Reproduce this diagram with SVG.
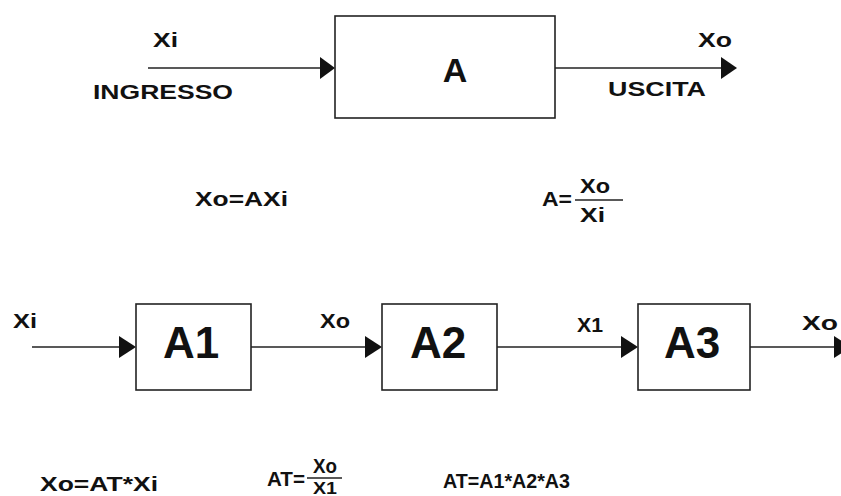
<svg xmlns="http://www.w3.org/2000/svg" width="841" height="496" viewBox="0 0 841 496">
<style>
.t{font-family:"Liberation Sans",Arial,sans-serif;font-weight:bold;fill:#111;}
.s{font-size:20px;}
.big{font-size:44px;text-anchor:middle;}
.box{fill:#fff;stroke:#222;stroke-width:1.6;}
.ln{stroke:#222;stroke-width:1.6;fill:none;}
.ah{fill:#111;}
</style>
<rect width="841" height="496" fill="#fff"/>
<g id="connectors">
<line class="ln" x1="148" y1="68" x2="322" y2="68"/>
<polygon class="ah" points="320,57 335,68 320,79"/>
<line class="ln" x1="555" y1="68" x2="722" y2="68"/>
<polygon class="ah" points="721,57 737,68 721,79"/>
<line class="ln" x1="32" y1="347" x2="120" y2="347"/>
<polygon class="ah" points="119,336 136,347 119,358"/>
<line class="ln" x1="251" y1="347" x2="366" y2="347"/>
<polygon class="ah" points="365,336 382,347 365,358"/>
<line class="ln" x1="497" y1="347" x2="622" y2="347"/>
<polygon class="ah" points="621,336 638,347 621,358"/>
<line class="ln" x1="750" y1="347" x2="838" y2="347"/>
<polygon class="ah" points="834,336 851,347 834,358"/>
</g>
<g id="nodeA">
<rect class="box" x="335" y="16" width="220" height="102"/>
<text class="t" x="455" y="82" font-size="34" text-anchor="middle">A</text>
</g>
<g id="nodeA1">
<rect class="box" x="136" y="304" width="115" height="86"/>
<text class="t big" x="191" y="358">A1</text>
</g>
<g id="nodeA2">
<rect class="box" x="382" y="304" width="115" height="86"/>
<text class="t big" x="438" y="358">A2</text>
</g>
<g id="nodeA3">
<rect class="box" x="638" y="304" width="112" height="86"/>
<text class="t big" x="692" y="358">A3</text>
</g>
<g id="labels">
<text class="t s" x="153" y="47" textLength="25" lengthAdjust="spacingAndGlyphs">Xi</text>
<text class="t s" x="93" y="99" textLength="140" lengthAdjust="spacingAndGlyphs">INGRESSO</text>
<text class="t s" x="698" y="47" textLength="34" lengthAdjust="spacingAndGlyphs">Xo</text>
<text class="t s" x="608" y="96" textLength="98" lengthAdjust="spacingAndGlyphs">USCITA</text>
<text class="t s" x="195" y="206" textLength="93" lengthAdjust="spacingAndGlyphs">Xo=AXi</text>
<text class="t s" x="542" y="206" textLength="30" lengthAdjust="spacingAndGlyphs">A=</text>
<line class="ln" x1="575" y1="200" x2="623" y2="200"/>
<text class="t s" x="580" y="193" textLength="30" lengthAdjust="spacingAndGlyphs">Xo</text>
<text class="t s" x="580" y="222" textLength="25" lengthAdjust="spacingAndGlyphs">Xi</text>
<text class="t s" x="13" y="328" textLength="24" lengthAdjust="spacingAndGlyphs">Xi</text>
<text class="t s" x="320" y="328" textLength="30" lengthAdjust="spacingAndGlyphs">Xo</text>
<text class="t s" x="577" y="332" textLength="26" lengthAdjust="spacingAndGlyphs">X1</text>
<text class="t s" x="802" y="330" textLength="36" lengthAdjust="spacingAndGlyphs">Xo</text>
<text class="t s" x="40" y="491" textLength="118" lengthAdjust="spacingAndGlyphs">Xo=AT*Xi</text>
<text class="t s" x="267" y="486" textLength="38" lengthAdjust="spacingAndGlyphs">AT=</text>
<line class="ln" x1="307" y1="478" x2="342" y2="478"/>
<text class="t s" x="313" y="473" textLength="24" lengthAdjust="spacingAndGlyphs">Xo</text>
<text class="t" x="313" y="494" font-size="16" textLength="24" lengthAdjust="spacingAndGlyphs">X1</text>
<text class="t s" x="443" y="488" textLength="127" lengthAdjust="spacingAndGlyphs">AT=A1*A2*A3</text>
</g>
</svg>
